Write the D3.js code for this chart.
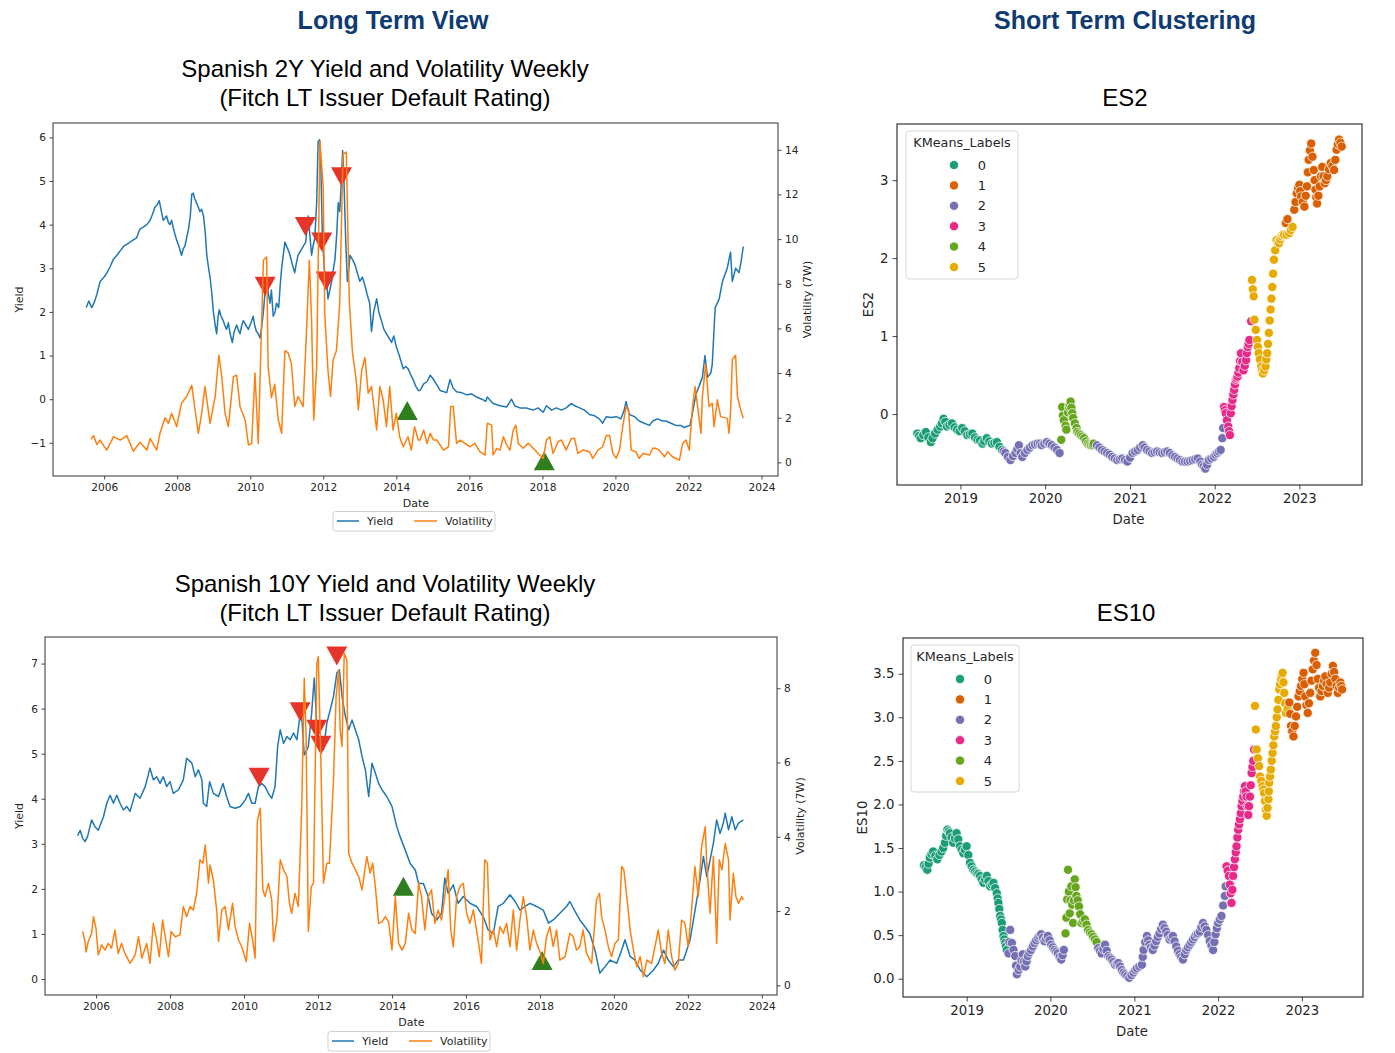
<!DOCTYPE html>
<html><head><meta charset="utf-8">
<script src="https://cdn.jsdelivr.net/npm/d3@7"></script>
<style>body{margin:0;background:#fff}svg{display:block}</style>
</head><body>
<svg id="chart" width="1395" height="1053"></svg>
<script>
// ---------------- DATA ----------------
const xTickYearsLong = [2006,2008,2010,2012,2014,2016,2018,2020,2022,2024];
const xTickYearsShort = [2019,2020,2021,2022,2023];
const leftTicks2Y = [-1,0,1,2,3,4,5,6];
const rightTicks2Y = [0,2,4,6,8,10,12,14];
const leftTicks10Y = [0,1,2,3,4,5,6,7];
const rightTicks10Y = [0,2,4,6,8];
const es2Ticks = [0,1,2,3];
const es10Ticks = [0,0.5,1,1.5,2,2.5,3,3.5];
const clusterLabels = [0,1,2,3,4,5];
const clusterColors = ['#1b9e77','#d95f02','#7570b3','#e7298a','#66a61e','#e6ab02'];

// Spanish 2Y yield [decimal year, yield]
const yield2Y = [[2005.51,2.1],[2005.58,2.25],[2005.66,2.1],[2005.72,2.2],[2005.8,2.4],[2005.89,2.7],[2006.0,2.8],[2006.08,2.9],[2006.16,3.03],[2006.25,3.2],[2006.35,3.3],[2006.44,3.4],[2006.53,3.5],[2006.62,3.55],[2006.71,3.6],[2006.8,3.65],[2006.89,3.7],[2006.98,3.9],[2007.08,3.95],[2007.17,4.0],[2007.26,4.1],[2007.33,4.25],[2007.39,4.4],[2007.45,4.45],[2007.51,4.55],[2007.57,4.3],[2007.62,4.1],[2007.67,4.15],[2007.71,4.2],[2007.76,4.05],[2007.8,4.0],[2007.85,4.1],[2007.9,3.9],[2007.95,3.75],[2007.99,3.64],[2008.05,3.5],[2008.12,3.3],[2008.17,3.45],[2008.21,3.5],[2008.26,3.7],[2008.31,3.9],[2008.36,4.2],[2008.4,4.7],[2008.44,4.72],[2008.48,4.6],[2008.53,4.5],[2008.58,4.4],[2008.62,4.3],[2008.67,4.35],[2008.72,4.2],[2008.77,3.8],[2008.81,3.3],[2008.86,3.0],[2008.9,2.8],[2008.95,2.4],[2008.99,2.0],[2009.04,1.7],[2009.08,1.5],[2009.12,1.9],[2009.15,2.05],[2009.2,1.9],[2009.26,1.8],[2009.3,1.7],[2009.35,1.6],[2009.4,1.75],[2009.45,1.5],[2009.51,1.3],[2009.56,1.55],[2009.63,1.7],[2009.67,1.6],[2009.72,1.5],[2009.77,1.7],[2009.81,1.8],[2009.88,1.7],[2009.95,1.6],[2010.02,1.75],[2010.08,1.9],[2010.12,1.7],[2010.17,1.55],[2010.22,1.5],[2010.27,1.4],[2010.32,1.7],[2010.36,2.0],[2010.41,2.5],[2010.45,2.7],[2010.5,2.4],[2010.54,2.2],[2010.58,2.5],[2010.63,1.9],[2010.68,2.0],[2010.72,2.2],[2010.78,2.1],[2010.82,2.6],[2010.86,3.0],[2010.95,3.6],[2011.0,3.5],[2011.05,3.4],[2011.09,3.3],[2011.15,3.1],[2011.22,2.9],[2011.26,3.1],[2011.31,3.3],[2011.38,3.4],[2011.45,3.5],[2011.52,3.6],[2011.59,4.2],[2011.64,3.7],[2011.68,3.3],[2011.72,3.5],[2011.77,3.7],[2011.82,4.5],[2011.86,5.9],[2011.9,5.95],[2011.93,5.5],[2011.98,3.6],[2012.04,2.9],[2012.1,2.6],[2012.13,2.3],[2012.18,2.5],[2012.23,2.7],[2012.28,3.0],[2012.32,3.2],[2012.37,3.8],[2012.41,4.5],[2012.45,4.3],[2012.49,4.9],[2012.53,5.7],[2012.56,5.2],[2012.59,4.3],[2012.62,3.5],[2012.66,2.7],[2012.7,3.0],[2012.73,3.3],[2012.8,3.2],[2012.86,3.1],[2012.93,2.9],[2013.0,2.7],[2013.07,2.8],[2013.14,2.6],[2013.2,2.4],[2013.27,2.2],[2013.32,1.55],[2013.38,2.0],[2013.46,2.3],[2013.52,2.0],[2013.59,1.8],[2013.66,1.6],[2013.73,1.5],[2013.8,1.4],[2013.87,1.3],[2013.93,1.45],[2014.0,1.2],[2014.08,1.0],[2014.19,0.7],[2014.26,0.75],[2014.32,0.7],[2014.4,0.55],[2014.46,0.45],[2014.53,0.3],[2014.6,0.2],[2014.65,0.2],[2014.75,0.35],[2014.84,0.4],[2014.93,0.55],[2015.02,0.45],[2015.2,0.2],[2015.38,0.15],[2015.47,0.45],[2015.56,0.25],[2015.65,0.17],[2015.79,0.15],[2015.93,0.1],[2016.06,0.12],[2016.2,0.05],[2016.34,0.0],[2016.45,-0.05],[2016.49,0.05],[2016.65,-0.1],[2016.84,-0.15],[2017.02,-0.18],[2017.15,0.0],[2017.24,-0.15],[2017.38,-0.2],[2017.56,-0.2],[2017.75,-0.25],[2017.88,-0.2],[2018.02,-0.3],[2018.11,-0.15],[2018.25,-0.25],[2018.38,-0.2],[2018.52,-0.25],[2018.65,-0.2],[2018.79,-0.1],[2018.88,-0.15],[2019.02,-0.2],[2019.15,-0.25],[2019.29,-0.35],[2019.43,-0.38],[2019.56,-0.45],[2019.65,-0.55],[2019.75,-0.4],[2019.88,-0.42],[2020.02,-0.4],[2020.15,-0.45],[2020.24,-0.25],[2020.29,-0.05],[2020.38,-0.35],[2020.52,-0.4],[2020.65,-0.5],[2020.79,-0.55],[2020.93,-0.6],[2021.02,-0.5],[2021.15,-0.45],[2021.29,-0.5],[2021.38,-0.5],[2021.52,-0.55],[2021.65,-0.6],[2021.79,-0.6],[2021.88,-0.65],[2021.97,-0.62],[2022.04,-0.6],[2022.11,-0.3],[2022.2,0.1],[2022.29,0.3],[2022.38,0.5],[2022.45,1.0],[2022.52,0.5],[2022.61,0.6],[2022.65,0.8],[2022.73,2.1],[2022.84,2.3],[2022.93,2.7],[2023.06,3.0],[2023.15,3.37],[2023.2,2.7],[2023.29,3.0],[2023.38,2.9],[2023.43,3.1],[2023.5,3.5]];

// Spanish 2Y volatility (7W) [decimal year, volatility]
const vol2Y = [[2005.64,1.03],[2005.71,1.2],[2005.8,0.8],[2005.89,1.0],[2006.07,0.55],[2006.26,1.15],[2006.44,1.0],[2006.62,1.2],[2006.8,0.5],[2006.98,0.9],[2007.17,0.55],[2007.26,1.07],[2007.44,0.55],[2007.53,1.3],[2007.67,2.0],[2007.76,1.75],[2007.85,2.2],[2007.99,1.6],[2008.12,2.65],[2008.26,2.95],[2008.4,3.45],[2008.49,2.35],[2008.58,1.3],[2008.67,2.2],[2008.76,3.4],[2008.9,1.75],[2009.04,2.95],[2009.14,4.8],[2009.22,3.85],[2009.31,2.2],[2009.4,1.6],[2009.54,3.85],[2009.63,3.9],[2009.72,2.5],[2009.86,1.9],[2009.95,0.78],[2010.04,0.85],[2010.13,4.0],[2010.22,0.85],[2010.36,9.05],[2010.45,9.2],[2010.49,4.3],[2010.58,2.9],[2010.67,3.5],[2010.77,1.9],[2010.86,1.3],[2010.95,5.0],[2011.04,4.9],[2011.13,4.4],[2011.22,2.5],[2011.31,2.95],[2011.45,2.5],[2011.54,5.8],[2011.62,9.05],[2011.68,6.4],[2011.74,1.9],[2011.82,4.3],[2011.91,14.4],[2012.0,12.3],[2012.04,6.7],[2012.13,4.1],[2012.2,2.95],[2012.27,4.6],[2012.36,5.0],[2012.45,7.1],[2012.54,13.8],[2012.63,13.9],[2012.71,7.3],[2012.8,4.9],[2012.9,3.7],[2012.96,2.35],[2013.05,4.1],[2013.14,4.7],[2013.23,3.1],[2013.32,3.4],[2013.46,1.45],[2013.55,3.4],[2013.64,2.8],[2013.73,1.6],[2013.82,3.4],[2013.91,1.45],[2014.0,2.2],[2014.09,1.15],[2014.19,0.7],[2014.32,1.15],[2014.41,0.55],[2014.5,1.6],[2014.6,1.0],[2014.65,1.0],[2014.75,1.45],[2014.84,0.85],[2014.93,1.3],[2015.02,1.0],[2015.11,1.0],[2015.2,0.78],[2015.29,0.55],[2015.43,0.7],[2015.49,2.5],[2015.56,2.5],[2015.65,0.85],[2015.75,1.0],[2015.88,0.85],[2016.02,0.7],[2016.15,0.85],[2016.29,0.48],[2016.43,0.33],[2016.49,1.75],[2016.61,1.67],[2016.65,0.33],[2016.75,0.63],[2016.84,0.55],[2016.93,1.15],[2017.02,0.78],[2017.11,0.55],[2017.2,1.45],[2017.27,1.67],[2017.34,0.85],[2017.47,0.63],[2017.61,0.85],[2017.75,0.63],[2017.88,0.4],[2018.02,0.18],[2018.11,1.0],[2018.2,1.15],[2018.29,0.4],[2018.43,0.93],[2018.52,1.0],[2018.65,0.55],[2018.79,1.07],[2018.88,1.07],[2018.97,0.4],[2019.11,0.55],[2019.29,0.48],[2019.38,0.18],[2019.52,0.55],[2019.65,0.7],[2019.75,1.2],[2019.84,1.2],[2019.93,0.4],[2020.02,0.18],[2020.11,0.55],[2020.2,1.6],[2020.29,2.5],[2020.36,2.35],[2020.43,0.55],[2020.56,0.48],[2020.65,0.18],[2020.75,0.4],[2020.93,0.33],[2021.02,0.63],[2021.11,0.63],[2021.2,0.55],[2021.34,0.25],[2021.43,0.48],[2021.56,0.25],[2021.75,0.1],[2021.84,0.85],[2021.93,1.0],[2022.02,0.55],[2022.11,2.5],[2022.18,3.4],[2022.25,2.5],[2022.34,1.3],[2022.38,2.95],[2022.47,4.4],[2022.56,2.5],[2022.65,2.65],[2022.7,1.6],[2022.79,2.8],[2022.88,2.05],[2023.06,1.97],[2023.11,1.3],[2023.15,2.2],[2023.2,4.6],[2023.29,4.8],[2023.34,2.95],[2023.43,2.35],[2023.5,1.97]];

// Spanish 10Y yield
const yield10Y = [[2005.5,3.18],[2005.57,3.3],[2005.64,3.12],[2005.7,3.05],[2005.77,3.16],[2005.88,3.53],[2005.97,3.38],[2006.06,3.3],[2006.2,3.6],[2006.29,3.9],[2006.38,4.08],[2006.47,3.9],[2006.56,4.08],[2006.65,3.9],[2006.74,3.75],[2006.83,3.83],[2006.92,3.72],[2007.06,4.12],[2007.19,4.01],[2007.33,4.27],[2007.46,4.68],[2007.55,4.42],[2007.64,4.49],[2007.73,4.34],[2007.82,4.49],[2007.91,4.27],[2008.0,4.38],[2008.09,4.12],[2008.23,4.2],[2008.36,4.42],[2008.45,4.9],[2008.59,4.79],[2008.68,4.49],[2008.77,4.64],[2008.86,4.42],[2008.9,3.9],[2008.99,3.83],[2009.07,4.38],[2009.17,4.12],[2009.31,4.05],[2009.43,4.34],[2009.53,4.05],[2009.62,3.83],[2009.76,3.79],[2009.9,3.83],[2010.03,3.97],[2010.12,4.12],[2010.21,3.9],[2010.3,3.9],[2010.39,4.27],[2010.48,4.34],[2010.57,4.27],[2010.66,4.12],[2010.75,4.01],[2010.84,4.27],[2010.91,5.16],[2010.98,5.53],[2011.07,5.23],[2011.16,5.38],[2011.25,5.31],[2011.34,5.46],[2011.43,5.31],[2011.5,5.75],[2011.56,5.83],[2011.63,4.97],[2011.74,5.16],[2011.83,5.9],[2011.9,6.68],[2011.97,5.64],[2012.06,5.2],[2012.15,5.09],[2012.24,5.68],[2012.33,5.97],[2012.42,6.27],[2012.51,6.79],[2012.58,6.86],[2012.65,6.27],[2012.74,5.83],[2012.83,5.53],[2012.92,5.75],[2013.01,5.53],[2013.1,5.31],[2013.19,4.94],[2013.28,4.64],[2013.37,4.05],[2013.46,4.79],[2013.55,4.57],[2013.64,4.34],[2013.73,4.2],[2013.86,4.05],[2014.0,3.83],[2014.13,3.38],[2014.22,3.16],[2014.36,2.86],[2014.49,2.57],[2014.63,2.42],[2014.72,2.12],[2014.85,2.12],[2014.98,1.83],[2015.07,1.46],[2015.21,1.31],[2015.34,1.46],[2015.43,2.24],[2015.52,1.9],[2015.66,2.09],[2015.79,1.68],[2015.93,1.83],[2016.11,1.68],[2016.29,1.61],[2016.47,1.38],[2016.6,1.09],[2016.74,1.01],[2016.87,1.61],[2017.01,1.68],[2017.19,1.87],[2017.33,1.72],[2017.46,1.53],[2017.6,1.61],[2017.73,1.68],[2017.91,1.61],[2018.09,1.53],[2018.23,1.24],[2018.36,1.31],[2018.54,1.46],[2018.72,1.61],[2018.81,1.72],[2018.95,1.5],[2019.08,1.31],[2019.22,1.16],[2019.35,1.01],[2019.49,0.64],[2019.62,0.13],[2019.76,0.27],[2019.9,0.42],[2020.08,0.35],[2020.21,0.64],[2020.3,0.87],[2020.44,0.5],[2020.57,0.42],[2020.71,0.2],[2020.89,0.05],[2021.07,0.2],[2021.2,0.35],[2021.34,0.64],[2021.47,0.42],[2021.61,0.27],[2021.74,0.42],[2021.88,0.42],[2021.97,0.64],[2022.06,0.87],[2022.15,1.31],[2022.24,1.75],[2022.33,2.2],[2022.42,2.72],[2022.51,2.27],[2022.6,2.64],[2022.69,3.01],[2022.78,3.53],[2022.87,3.23],[2022.96,3.46],[2023.01,3.68],[2023.1,3.31],[2023.19,3.6],[2023.28,3.31],[2023.37,3.46],[2023.5,3.53]];

// Spanish 10Y volatility (7W)
const vol10Y = [[2005.64,1.45],[2005.7,1.18],[2005.73,0.9],[2005.79,1.18],[2005.88,1.4],[2005.93,1.85],[2006.0,1.53],[2006.06,0.82],[2006.15,1.09],[2006.24,0.95],[2006.33,1.13],[2006.42,1.0],[2006.51,1.49],[2006.6,0.86],[2006.69,1.13],[2006.78,0.86],[2006.92,0.59],[2007.06,0.82],[2007.15,1.31],[2007.24,0.73],[2007.37,1.13],[2007.46,0.59],[2007.55,1.67],[2007.64,1.22],[2007.71,0.77],[2007.8,1.76],[2007.87,1.31],[2007.96,0.77],[2008.03,1.45],[2008.14,1.31],[2008.27,1.36],[2008.36,2.12],[2008.45,1.85],[2008.54,2.12],[2008.63,2.03],[2008.72,2.48],[2008.81,3.38],[2008.89,3.29],[2008.95,3.78],[2009.04,2.75],[2009.08,3.24],[2009.17,2.84],[2009.26,2.03],[2009.31,1.18],[2009.4,2.03],[2009.49,2.12],[2009.58,1.49],[2009.69,2.21],[2009.76,1.58],[2009.85,1.22],[2009.94,1.04],[2010.06,0.64],[2010.15,1.67],[2010.24,1.18],[2010.3,0.73],[2010.36,4.41],[2010.44,4.77],[2010.51,2.57],[2010.57,2.39],[2010.66,2.75],[2010.75,2.3],[2010.8,1.18],[2010.89,1.76],[2010.98,3.38],[2011.07,3.11],[2011.16,2.93],[2011.23,2.21],[2011.29,1.94],[2011.38,2.48],[2011.47,2.12],[2011.56,4.72],[2011.63,8.27],[2011.68,6.7],[2011.74,1.45],[2011.82,2.66],[2011.88,2.75],[2011.97,8.67],[2012.01,8.85],[2012.08,5.98],[2012.15,2.75],[2012.24,3.29],[2012.31,3.29],[2012.42,5.53],[2012.49,7.77],[2012.56,8.49],[2012.6,6.88],[2012.65,6.43],[2012.71,8.94],[2012.78,8.76],[2012.83,3.55],[2012.92,3.29],[2013.01,3.11],[2013.1,2.93],[2013.19,2.57],[2013.32,3.47],[2013.41,3.02],[2013.48,3.29],[2013.55,2.66],[2013.64,1.67],[2013.73,1.71],[2013.82,1.85],[2013.91,1.71],[2014.0,0.95],[2014.09,2.39],[2014.18,1.13],[2014.27,0.95],[2014.36,1.13],[2014.45,1.94],[2014.54,1.49],[2014.63,1.4],[2014.72,2.75],[2014.8,2.39],[2014.89,1.49],[2014.98,2.39],[2015.07,2.57],[2015.16,1.67],[2015.25,2.03],[2015.34,1.76],[2015.43,2.39],[2015.52,3.11],[2015.59,1.49],[2015.66,1.04],[2015.75,2.39],[2015.84,2.66],[2015.93,2.75],[2016.02,1.94],[2016.11,1.67],[2016.2,2.03],[2016.33,1.22],[2016.42,0.59],[2016.51,3.38],[2016.58,3.29],[2016.65,1.22],[2016.74,1.49],[2016.83,1.04],[2016.92,1.58],[2017.01,1.4],[2017.1,1.67],[2017.19,1.04],[2017.28,2.03],[2017.37,0.95],[2017.46,1.76],[2017.55,2.39],[2017.64,1.85],[2017.73,0.95],[2017.82,1.49],[2017.91,1.13],[2018.0,0.91],[2018.09,0.59],[2018.18,1.31],[2018.27,1.58],[2018.36,1.04],[2018.45,1.49],[2018.54,0.68],[2018.68,0.77],[2018.81,1.4],[2018.9,1.31],[2018.99,0.95],[2019.08,1.04],[2019.17,1.49],[2019.26,0.86],[2019.4,0.59],[2019.53,2.3],[2019.61,2.48],[2019.67,1.85],[2019.76,1.49],[2019.85,1.04],[2019.94,0.77],[2020.03,1.13],[2020.12,1.22],[2020.21,3.2],[2020.27,3.11],[2020.35,2.39],[2020.44,1.49],[2020.53,0.95],[2020.62,0.5],[2020.71,0.77],[2020.8,0.23],[2020.89,0.68],[2021.02,0.59],[2021.11,1.04],[2021.2,1.49],[2021.29,0.86],[2021.38,0.59],[2021.47,1.49],[2021.56,0.77],[2021.65,0.41],[2021.74,0.59],[2021.83,1.76],[2021.92,1.67],[2022.01,1.04],[2022.1,2.03],[2022.19,3.2],[2022.28,2.39],[2022.37,3.73],[2022.47,4.27],[2022.51,3.29],[2022.6,1.94],[2022.69,3.47],[2022.78,1.13],[2022.85,3.38],[2022.92,3.11],[2023.01,3.82],[2023.1,3.38],[2023.14,1.76],[2023.23,3.02],[2023.3,2.39],[2023.37,2.21],[2023.46,2.39],[2023.5,2.3]];

// Rating events [decimal year, yield level]
const downgrades2Y = [[2010.41,2.59],[2011.51,3.96],[2011.96,3.6],[2012.08,2.71],[2012.5,5.1]];
const upgrades2Y = [[2014.3,-0.26],[2018.05,-1.41]];
const downgrades10Y = [[2010.41,4.48],[2011.52,5.93],[2011.97,5.54],[2012.08,5.19],[2012.51,7.17]];
const upgrades10Y = [[2014.31,2.06],[2018.06,0.41]];

// ES2 clustering [decimal year, yield, KMeans label]
const es2Points = [[2018.49,-0.25,0],[2018.53,-0.31,0],[2018.59,-0.23,0],[2018.65,-0.36,0],[2018.7,-0.25,0],[2018.76,-0.16,0],[2018.8,-0.06,0],[2018.84,-0.16,0],[2018.9,-0.12,0],[2018.96,-0.2,0],[2019.02,-0.18,0],[2019.08,-0.27,0],[2019.14,-0.25,0],[2019.2,-0.33,0],[2019.26,-0.38,0],[2019.31,-0.31,0],[2019.37,-0.38,0],[2019.43,-0.36,0],[2019.49,-0.46,0],
[2018.51,-0.28,0],[2018.56,-0.27,0],[2018.62,-0.3,0],[2018.67,-0.31,0],[2018.73,-0.2,0],[2018.78,-0.12,0],[2018.82,-0.1,0],[2018.87,-0.14,0],[2018.93,-0.17,0],[2018.99,-0.22,0],[2019.05,-0.22,0],[2019.11,-0.26,0],[2019.17,-0.3,0],[2019.23,-0.34,0],[2019.28,-0.35,0],[2019.34,-0.35,0],[2019.4,-0.37,0],[2019.46,-0.42,0],
[2019.53,-0.5,2],[2019.59,-0.59,2],[2019.65,-0.5,2],[2019.69,-0.4,2],[2019.73,-0.55,2],[2019.79,-0.46,2],[2019.85,-0.4,2],[2019.91,-0.38,2],[2019.96,-0.4,2],[2020.02,-0.36,2],[2020.08,-0.4,2],[2020.14,-0.46,2],[2020.17,-0.5,2],
[2019.51,-0.48,2],[2019.56,-0.55,2],[2019.62,-0.54,2],[2019.67,-0.45,2],[2019.71,-0.5,2],[2019.76,-0.5,2],[2019.82,-0.43,2],[2019.88,-0.39,2],[2019.94,-0.38,2],[2019.99,-0.38,2],[2020.05,-0.38,2],[2020.11,-0.43,2],
[2020.19,-0.33,4],[2020.2,0.09,4],[2020.22,-0.08,4],[2020.25,-0.2,4],[2020.28,0.09,4],[2020.3,0.16,4],[2020.32,0.01,4],[2020.35,-0.12,4],[2020.38,-0.23,4],[2020.42,-0.27,4],[2020.46,-0.31,4],[2020.5,-0.38,4],[2020.54,-0.4,4],[2020.57,-0.38,4],
[2020.21,-0.02,4],[2020.24,-0.15,4],[2020.27,0.02,4],[2020.29,0.12,4],[2020.31,0.08,4],[2020.33,-0.05,4],[2020.37,-0.18,4],[2020.4,-0.25,4],[2020.44,-0.29,4],[2020.48,-0.35,4],[2020.52,-0.39,4],[2020.56,-0.4,4],
[2020.61,-0.4,2],[2020.67,-0.46,2],[2020.73,-0.5,2],[2020.79,-0.55,2],[2020.85,-0.59,2],[2020.91,-0.57,2],[2020.97,-0.61,2],[2021.03,-0.5,2],[2021.09,-0.46,2],[2021.15,-0.4,2],[2021.2,-0.46,2],[2021.26,-0.5,2],[2021.32,-0.48,2],[2021.38,-0.5,2],[2021.44,-0.48,2],[2021.5,-0.53,2],[2021.56,-0.57,2],[2021.62,-0.61,2],[2021.68,-0.61,2],[2021.74,-0.59,2],[2021.8,-0.57,2],[2021.85,-0.65,2],[2021.89,-0.7,2],[2021.93,-0.59,2],[2021.99,-0.55,2],[2022.03,-0.5,2],[2022.07,-0.46,2],[2022.09,-0.31,2],[2022.1,-0.18,2],
[2020.64,-0.43,2],[2020.7,-0.48,2],[2020.76,-0.52,2],[2020.82,-0.57,2],[2020.88,-0.58,2],[2020.94,-0.59,2],[2021.0,-0.56,2],[2021.06,-0.48,2],[2021.12,-0.43,2],[2021.17,-0.43,2],[2021.23,-0.48,2],[2021.29,-0.49,2],[2021.35,-0.49,2],[2021.41,-0.49,2],[2021.47,-0.5,2],[2021.53,-0.55,2],[2021.59,-0.59,2],[2021.65,-0.61,2],[2021.71,-0.6,2],[2021.77,-0.58,2],[2021.83,-0.61,2],[2021.87,-0.67,2],[2021.91,-0.65,2],[2021.96,-0.57,2],[2022.01,-0.52,2],[2022.05,-0.48,2],
[2022.11,0.09,3],[2022.13,0.01,3],[2022.16,-0.16,3],[2022.18,-0.27,3],[2022.19,0.01,3],[2022.21,0.18,3],[2022.23,0.31,3],[2022.25,0.44,3],[2022.27,0.48,3],[2022.29,0.59,3],[2022.31,0.78,3],[2022.34,0.56,3],[2022.37,0.69,3],[2022.39,0.86,3],[2022.41,0.95,3],[2022.43,1.19,3],
[2022.12,0.05,3],[2022.145,-0.08,3],[2022.17,-0.22,3],[2022.2,0.1,3],[2022.22,0.25,3],[2022.24,0.38,3],[2022.26,0.46,3],[2022.28,0.53,3],[2022.3,0.68,3],[2022.325,0.67,3],[2022.355,0.62,3],[2022.38,0.78,3],[2022.4,0.9,3],
[2022.44,1.72,5],[2022.46,1.51,5],[2022.47,1.21,5],[2022.5,0.95,5],[2022.52,0.78,5],[2022.55,0.61,5],[2022.57,0.52,5],[2022.6,0.61,5],[2022.62,0.78,5],[2022.64,1.04,5],[2022.66,1.34,5],[2022.68,1.63,5],[2022.7,1.98,5],[2022.73,2.23,5],[2022.76,2.19,5],[2022.79,2.28,5],[2022.82,2.3,5],[2022.88,2.32,5],[2022.92,2.4,5],
[2022.45,1.6,5],[2022.485,1.08,5],[2022.51,0.86,5],[2022.535,0.7,5],[2022.56,0.56,5],[2022.585,0.56,5],[2022.61,0.7,5],[2022.63,0.9,5],[2022.65,1.2,5],[2022.67,1.48,5],[2022.69,1.8,5],[2022.715,2.1,5],[2022.745,2.2,5],[2022.775,2.24,5],[2022.805,2.3,5],[2022.85,2.3,5],[2022.9,2.36,5],
[2022.84,2.45,1],[2022.94,2.62,1],[2022.97,2.83,1],[2023.0,2.94,1],[2023.02,2.79,1],[2023.06,2.66,1],[2023.09,2.92,1],[2023.11,3.26,1],[2023.14,3.47,1],[2023.17,3.13,1],[2023.19,2.88,1],[2023.21,2.7,1],[2023.24,2.92,1],[2023.27,3.17,1],[2023.3,2.96,1],[2023.33,3.05,1],[2023.37,3.22,1],[2023.41,3.13,1],[2023.44,3.39,1],[2023.47,3.52,1],[2023.5,3.43,1],
[2022.86,2.5,1],[2022.955,2.72,1],[2022.985,2.9,1],[2023.01,2.86,1],[2023.04,2.72,1],[2023.075,2.8,1],[2023.1,3.1,1],[2023.125,3.38,1],[2023.155,3.3,1],[2023.18,3.0,1],[2023.2,2.78,1],[2023.225,2.8,1],[2023.255,3.05,1],[2023.285,3.05,1],[2023.315,3.0,1],[2023.35,3.14,1],[2023.39,3.18,1],[2023.425,3.26,1],[2023.455,3.46,1],[2023.485,3.48,1]];

// ES10 clustering [decimal year, yield, KMeans label]
const es10Points = [[2018.49,1.3,0],[2018.53,1.25,0],[2018.56,1.39,0],[2018.6,1.46,0],[2018.65,1.37,0],[2018.7,1.46,0],[2018.74,1.56,0],[2018.77,1.71,0],[2018.8,1.67,0],[2018.84,1.56,0],[2018.88,1.67,0],[2018.92,1.52,0],[2018.96,1.44,0],[2019.0,1.52,0],[2019.04,1.33,0],[2019.08,1.25,0],[2019.12,1.21,0],[2019.16,1.18,0],[2019.2,1.1,0],[2019.24,1.18,0],[2019.28,1.06,0],[2019.32,1.1,0],[2019.36,0.98,0],[2019.38,0.87,0],[2019.4,0.72,0],[2019.42,0.64,0],[2019.44,0.49,0],[2019.46,0.41,0],[2019.48,0.33,0],
[2018.51,1.28,0],[2018.545,1.32,0],[2018.58,1.43,0],[2018.625,1.41,0],[2018.675,1.42,0],[2018.72,1.5,0],[2018.755,1.64,0],[2018.785,1.69,0],[2018.82,1.62,0],[2018.86,1.61,0],[2018.9,1.6,0],[2018.94,1.48,0],[2018.98,1.48,0],[2019.02,1.42,0],[2019.06,1.29,0],[2019.1,1.23,0],[2019.14,1.2,0],[2019.18,1.14,0],[2019.22,1.14,0],[2019.26,1.12,0],[2019.3,1.08,0],[2019.34,1.04,0],[2019.37,0.92,0],[2019.39,0.8,0],[2019.41,0.68,0],[2019.43,0.56,0],[2019.45,0.45,0],[2019.47,0.37,0],
[2019.5,0.29,2],[2019.52,0.56,2],[2019.54,0.41,2],[2019.58,0.26,2],[2019.6,0.05,2],[2019.64,0.14,2],[2019.67,0.28,2],[2019.7,0.14,2],[2019.73,0.26,2],[2019.77,0.33,2],[2019.81,0.41,2],[2019.85,0.47,2],[2019.89,0.51,2],[2019.93,0.43,2],[2019.97,0.49,2],[2020.01,0.39,2],[2020.05,0.33,2],[2020.09,0.29,2],[2020.13,0.22,2],[2020.16,0.33,2],
[2019.51,0.42,2],[2019.56,0.33,2],[2019.59,0.15,2],[2019.62,0.1,2],[2019.655,0.21,2],[2019.685,0.2,2],[2019.715,0.2,2],[2019.75,0.3,2],[2019.79,0.37,2],[2019.83,0.44,2],[2019.87,0.49,2],[2019.91,0.47,2],[2019.95,0.46,2],[2019.99,0.44,2],[2020.03,0.36,2],[2020.07,0.31,2],[2020.11,0.25,2],[2020.145,0.27,2],
[2020.18,0.52,4],[2020.2,0.91,4],[2020.21,1.25,4],[2020.23,0.75,4],[2020.25,1.06,4],[2020.27,0.64,4],[2020.29,1.14,4],[2020.31,0.95,4],[2020.34,0.83,4],[2020.37,0.64,4],[2020.41,0.68,4],[2020.45,0.56,4],[2020.49,0.51,4],[2020.53,0.45,4],
[2020.19,0.7,4],[2020.22,1.0,4],[2020.24,0.9,4],[2020.26,0.85,4],[2020.28,0.9,4],[2020.3,1.05,4],[2020.325,0.9,4],[2020.355,0.74,4],[2020.39,0.66,4],[2020.43,0.62,4],[2020.47,0.53,4],[2020.51,0.48,4],[2020.55,0.42,4],
[2020.57,0.35,2],[2020.61,0.29,2],[2020.65,0.39,2],[2020.69,0.26,2],[2020.73,0.22,2],[2020.77,0.16,2],[2020.81,0.18,2],[2020.85,0.1,2],[2020.89,0.05,2],[2020.94,0.01,2],[2020.99,0.07,2],[2021.03,0.12,2],[2021.09,0.16,2],[2021.11,0.33,2],[2021.15,0.49,2],[2021.18,0.39,2],[2021.22,0.33,2],[2021.26,0.43,2],[2021.3,0.52,2],[2021.34,0.62,2],[2021.38,0.54,2],[2021.42,0.45,2],[2021.46,0.49,2],[2021.5,0.37,2],[2021.54,0.28,2],[2021.58,0.22,2],[2021.62,0.33,2],[2021.66,0.39,2],[2021.7,0.45,2],[2021.74,0.51,2],[2021.78,0.54,2],[2021.82,0.64,2],[2021.86,0.56,2],[2021.9,0.43,2],[2021.94,0.33,2],[2021.97,0.51,2],[2022.0,0.64,2],[2022.04,0.72,2],[2022.08,0.95,2],[2022.09,1.06,2],
[2020.59,0.32,2],[2020.63,0.34,2],[2020.67,0.32,2],[2020.71,0.24,2],[2020.75,0.19,2],[2020.79,0.17,2],[2020.83,0.14,2],[2020.87,0.07,2],[2020.915,0.03,2],[2020.965,0.04,2],[2021.01,0.1,2],[2021.06,0.14,2],[2021.1,0.25,2],[2021.13,0.42,2],[2021.165,0.44,2],[2021.2,0.36,2],[2021.24,0.38,2],[2021.28,0.48,2],[2021.32,0.57,2],[2021.36,0.58,2],[2021.4,0.5,2],[2021.44,0.47,2],[2021.48,0.43,2],[2021.52,0.32,2],[2021.56,0.25,2],[2021.6,0.28,2],[2021.64,0.36,2],[2021.68,0.42,2],[2021.72,0.48,2],[2021.76,0.52,2],[2021.8,0.59,2],[2021.84,0.6,2],[2021.88,0.5,2],[2021.92,0.38,2],[2021.955,0.42,2],[2021.985,0.58,2],[2022.02,0.68,2],[2022.06,0.84,2],
[2022.1,1.29,3],[2022.13,1.18,3],[2022.15,0.98,3],[2022.16,0.87,3],[2022.18,1.18,3],[2022.2,1.37,3],[2022.22,1.52,3],[2022.24,1.71,3],[2022.26,1.83,3],[2022.28,1.98,3],[2022.3,2.09,3],[2022.32,2.21,3],[2022.34,2.09,3],[2022.36,1.88,3],[2022.38,2.09,3],[2022.4,2.36,3],[2022.42,2.5,3],[2022.43,2.63,3],
[2022.115,1.24,3],[2022.14,1.08,3],[2022.17,1.02,3],[2022.19,1.28,3],[2022.21,1.45,3],[2022.23,1.62,3],[2022.25,1.77,3],[2022.27,1.9,3],[2022.29,2.04,3],[2022.31,2.15,3],[2022.33,2.15,3],[2022.35,1.98,3],[2022.37,1.98,3],[2022.39,2.22,3],[2022.41,2.43,3],
[2022.44,3.13,5],[2022.45,2.86,5],[2022.46,2.63,5],[2022.49,2.44,5],[2022.5,2.32,5],[2022.53,2.21,5],[2022.55,2.13,5],[2022.57,1.94,5],[2022.58,1.87,5],[2022.6,2.06,5],[2022.61,2.25,5],[2022.63,2.4,5],[2022.65,2.59,5],[2022.67,2.78,5],[2022.69,2.9,5],[2022.71,3.09,5],[2022.73,3.32,5],[2022.75,3.44,5],[2022.77,3.51,5],[2022.79,3.28,5],[2022.81,3.05,5],
[2022.475,2.53,5],[2022.515,2.27,5],[2022.54,2.17,5],[2022.56,2.04,5],[2022.59,1.96,5],[2022.605,2.15,5],[2022.62,2.32,5],[2022.64,2.5,5],[2022.66,2.68,5],[2022.68,2.84,5],[2022.7,3.0,5],[2022.72,3.2,5],[2022.74,3.38,5],[2022.76,3.48,5],[2022.78,3.4,5],[2022.8,3.16,5],[2022.83,3.1,5],
[2022.85,3.17,1],[2022.87,2.9,1],[2022.9,2.78,1],[2022.93,3.01,1],[2022.96,3.24,1],[2022.99,3.36,1],[2023.02,3.51,1],[2023.04,3.24,1],[2023.07,3.05,1],[2023.1,3.28,1],[2023.13,3.55,1],[2023.16,3.74,1],[2023.19,3.44,1],[2023.22,3.24,1],[2023.25,3.36,1],[2023.28,3.47,1],[2023.31,3.28,1],[2023.34,3.4,1],[2023.37,3.59,1],[2023.4,3.44,1],[2023.43,3.28,1],[2023.46,3.4,1],[2023.48,3.32,1],
[2022.86,3.04,1],[2022.885,2.84,1],[2022.915,2.9,1],[2022.945,3.12,1],[2022.975,3.3,1],[2023.005,3.44,1],[2023.03,3.38,1],[2023.055,3.14,1],[2023.085,3.16,1],[2023.115,3.42,1],[2023.145,3.65,1],[2023.175,3.6,1],[2023.205,3.34,1],[2023.235,3.3,1],[2023.265,3.42,1],[2023.295,3.38,1],[2023.325,3.34,1],[2023.355,3.5,1],[2023.385,3.52,1],[2023.415,3.36,1],[2023.445,3.34,1],[2023.47,3.36,1]];

// ---------------- RENDER ----------------
const svg = d3.select('#chart');
const AXFONT = 'DejaVu Sans, sans-serif';
const TFONT = 'Liberation Sans, Arial, Helvetica, sans-serif';
const FRAME = '#333333';
const TXT = '#262626';
const BLUE = '#1f77b4', ORANGE = '#ff7f0e', RED = '#e5352a', GREEN = '#2f7f1f';

function yd(y){ const yr = Math.floor(y); const a = new Date(yr,0,1), b = new Date(yr+1,0,1); return new Date(+a + (y-yr)*(b-a)); }

function text(x, y, s, o={}){
  const t = svg.append('text').attr('x',x).attr('y',y).text(s)
    .attr('font-family', o.font || TFONT).attr('font-size', o.size || 12)
    .attr('fill', o.fill || '#000').attr('text-anchor', o.anchor || 'middle');
  if (o.weight) t.attr('font-weight', o.weight);
  if (o.rotate) t.attr('transform', `rotate(${o.rotate},${x},${y})`);
  return t;
}

function styleAxis(g, size){
  g.select('.domain').remove();
  g.attr('font-family', AXFONT).attr('font-size', size);
  g.selectAll('.tick line').attr('stroke', FRAME).attr('stroke-width', 0.9);
  g.selectAll('.tick text').attr('fill', TXT);
}

let clipId = 0;
function lineChart(c){
  const {x0,x1,y0,y1} = c.box;
  const x = d3.scaleTime().domain([yd(c.xDomain[0]), yd(c.xDomain[1])]).range([x0,x1]);
  const yL = d3.scaleLinear().domain(c.leftDomain).range([y1,y0]);
  const yR = d3.scaleLinear().domain(c.rightDomain).range([y1,y0]);
  const id = 'clip' + (clipId++);
  svg.append('clipPath').attr('id', id).append('rect').attr('x',x0).attr('y',y0).attr('width',x1-x0).attr('height',y1-y0);
  const g = svg.append('g').attr('clip-path', `url(#${id})`);
  g.append('path').datum(c.yieldData)
    .attr('d', d3.line().x(d=>x(yd(d[0]))).y(d=>yL(d[1])))
    .attr('fill','none').attr('stroke',BLUE).attr('stroke-width',1.5).attr('stroke-linejoin','round');
  const W = 21, H = 19;
  g.selectAll('.dn').data(c.down).join('path')
    .attr('d', d => { const cx = x(yd(d[0])), cy = yL(d[1]); return `M${cx-W/2},${cy-H/2}L${cx+W/2},${cy-H/2}L${cx},${cy+H/2}Z`; })
    .attr('fill', RED);
  g.selectAll('.up').data(c.up).join('path')
    .attr('d', d => { const cx = x(yd(d[0])), cy = yL(d[1]); return `M${cx-W/2},${cy+H/2}L${cx+W/2},${cy+H/2}L${cx},${cy-H/2}Z`; })
    .attr('fill', GREEN);
  g.append('path').datum(c.volData)
    .attr('d', d3.line().x(d=>x(yd(d[0]))).y(d=>yR(d[1])))
    .attr('fill','none').attr('stroke',ORANGE).attr('stroke-width',1.5).attr('stroke-linejoin','round');

  const fs = 10.6;
  const ax = svg.append('g').attr('transform',`translate(0,${y1})`)
    .call(d3.axisBottom(x).tickValues(xTickYearsLong.map(v=>new Date(v,0,1))).tickFormat(d3.timeFormat('%Y')).tickSize(3.5).tickPadding(3.5));
  styleAxis(ax, fs);
  const al = svg.append('g').attr('transform',`translate(${x0},0)`)
    .call(d3.axisLeft(yL).tickValues(c.leftTicks).tickFormat(d3.format('d')).tickSize(3.5).tickPadding(3.5));
  styleAxis(al, fs);
  const ar = svg.append('g').attr('transform',`translate(${x1},0)`)
    .call(d3.axisRight(yR).tickValues(c.rightTicks).tickFormat(d3.format('d')).tickSize(3.5).tickPadding(3.5));
  styleAxis(ar, fs);
  svg.append('rect').attr('x',x0).attr('y',y0).attr('width',x1-x0).attr('height',y1-y0)
    .attr('fill','none').attr('stroke',FRAME).attr('stroke-width',1);

  text((x0+x1)/2 + 0.5, c.dateY, 'Date', {font:AXFONT, size:11, fill:TXT});
  text(c.yieldLabelX, (y0+y1)/2, 'Yield', {font:AXFONT, size:11, fill:TXT, rotate:-90});
  text(c.volLabelX, (y0+y1)/2, 'Volatility (7W)', {font:AXFONT, size:11, fill:TXT, rotate:-90});

  const L = c.legend;
  svg.append('rect').attr('x',L.x).attr('y',L.y).attr('width',162).attr('height',19.5).attr('rx',2.5)
    .attr('fill','#fff').attr('fill-opacity',0.8).attr('stroke','#d0d0d0').attr('stroke-width',1);
  const ly = L.y + 9.5;
  svg.append('line').attr('x1',L.x+4).attr('x2',L.x+26).attr('y1',ly).attr('y2',ly).attr('stroke',BLUE).attr('stroke-width',1.5);
  text(L.x+34, ly+4, 'Yield', {font:AXFONT, size:11, fill:TXT, anchor:'start'});
  svg.append('line').attr('x1',L.x+81).attr('x2',L.x+104).attr('y1',ly).attr('y2',ly).attr('stroke',ORANGE).attr('stroke-width',1.5);
  text(L.x+112, ly+4, 'Volatility', {font:AXFONT, size:11, fill:TXT, anchor:'start'});
}

function scatterChart(c){
  const {x0,x1,y0,y1} = c.box;
  const x = d3.scaleTime().domain([yd(c.xDomain[0]), yd(c.xDomain[1])]).range([x0,x1]);
  const y = d3.scaleLinear().domain(c.yDomain).range([y1,y0]);
  const color = d3.scaleOrdinal().domain(clusterLabels).range(clusterColors);
  const id = 'clip' + (clipId++);
  svg.append('clipPath').attr('id', id).append('rect').attr('x',x0).attr('y',y0).attr('width',x1-x0).attr('height',y1-y0);
  const g = svg.append('g').attr('clip-path', `url(#${id})`);
  const pts = c.points.slice().sort((a,b)=>a[0]-b[0]);
  g.selectAll('circle').data(pts).join('circle')
    .attr('cx', d=>x(yd(d[0]))).attr('cy', d=>y(d[1])).attr('r', 4.6)
    .attr('fill', d=>color(d[2])).attr('stroke','#fff').attr('stroke-width',0.75);
  const fs = 13.3;
  const ax = svg.append('g').attr('transform',`translate(0,${y1})`)
    .call(d3.axisBottom(x).tickValues(xTickYearsShort.map(v=>new Date(v,0,1))).tickFormat(d3.timeFormat('%Y')).tickSize(4.5).tickPadding(4));
  styleAxis(ax, fs);
  const al = svg.append('g').attr('transform',`translate(${x0},0)`)
    .call(d3.axisLeft(y).tickValues(c.yTicks).tickFormat(d3.format(c.yFormat)).tickSize(4.5).tickPadding(4));
  styleAxis(al, fs);
  svg.append('rect').attr('x',x0).attr('y',y0).attr('width',x1-x0).attr('height',y1-y0)
    .attr('fill','none').attr('stroke','#222').attr('stroke-width',1.1);
  text((x0+x1)/2 - 1, c.dateY, 'Date', {font:AXFONT, size:13.3, fill:TXT});
  text(c.yLabelX, (y0+y1)/2, c.yLabel, {font:AXFONT, size:13.3, fill:TXT, rotate:-90});

  const L = c.legend;
  svg.append('rect').attr('x',L.x).attr('y',L.y).attr('width',L.w).attr('height',L.h).attr('rx',3)
    .attr('fill','#fff').attr('fill-opacity',0.8).attr('stroke','#d6d6d6').attr('stroke-width',1);
  text(L.x + L.w/2, L.y + 15.5, 'KMeans_Labels', {font:AXFONT, size:12.8, fill:TXT});
  clusterLabels.forEach((lab,i) => {
    const cy = L.y + 34 + i*20.4;
    svg.append('circle').attr('cx', L.mx).attr('cy', cy).attr('r', 4.6).attr('fill', color(lab)).attr('stroke','#fff').attr('stroke-width',0.75);
    text(L.mx + 28, cy + 4.6, String(lab), {font:AXFONT, size:13, fill:TXT});
  });
}

// main titles
text(393, 29, 'Long Term View', {size:25, weight:'bold', fill:'#0f3b73'});
text(1125, 29, 'Short Term Clustering', {size:25, weight:'bold', fill:'#0f3b73'});

text(385, 77, 'Spanish 2Y Yield and Volatility Weekly', {size:24});
text(385, 106, '(Fitch LT Issuer Default Rating)', {size:24});
text(1125, 106, 'ES2', {size:24});
text(385, 592, 'Spanish 10Y Yield and Volatility Weekly', {size:24});
text(385, 621, '(Fitch LT Issuer Default Rating)', {size:24});
text(1126, 621, 'ES10', {size:24});

lineChart({
  box:{x0:53, x1:778, y0:123, y1:476},
  xDomain:[2004.6, 2024.45], leftDomain:[-1.76, 6.33], rightDomain:[-0.61, 15.2],
  leftTicks:leftTicks2Y, rightTicks:rightTicks2Y,
  yieldData:yield2Y, volData:vol2Y, down:downgrades2Y, up:upgrades2Y,
  dateY:507, yieldLabelX:23, volLabelX:811,
  legend:{x:333, y:511.5}
});
lineChart({
  box:{x0:45, x1:777, y0:637, y1:995},
  xDomain:[2004.62, 2024.41], leftDomain:[-0.355, 7.59], rightDomain:[-0.26, 9.38],
  leftTicks:leftTicks10Y, rightTicks:rightTicks10Y,
  yieldData:yield10Y, volData:vol10Y, down:downgrades10Y, up:upgrades10Y,
  dateY:1026, yieldLabelX:23, volLabelX:804,
  legend:{x:328, y:1031.5}
});
scatterChart({
  box:{x0:897, x1:1362, y0:124, y1:485},
  xDomain:[2018.25, 2023.74], yDomain:[-0.91, 3.72], yTicks:es2Ticks, yFormat:'d',
  points:es2Points, yLabel:'ES2', yLabelX:873, dateY:524,
  legend:{x:906, y:131, w:112, h:148, mx:954}
});
scatterChart({
  box:{x0:903, x1:1363, y0:638, y1:997},
  xDomain:[2018.24, 2023.73], yDomain:[-0.21, 3.91], yTicks:es10Ticks, yFormat:'.1f',
  points:es10Points, yLabel:'ES10', yLabelX:867, dateY:1036,
  legend:{x:911, y:645, w:108, h:147, mx:960}
});
</script>
</body></html>
